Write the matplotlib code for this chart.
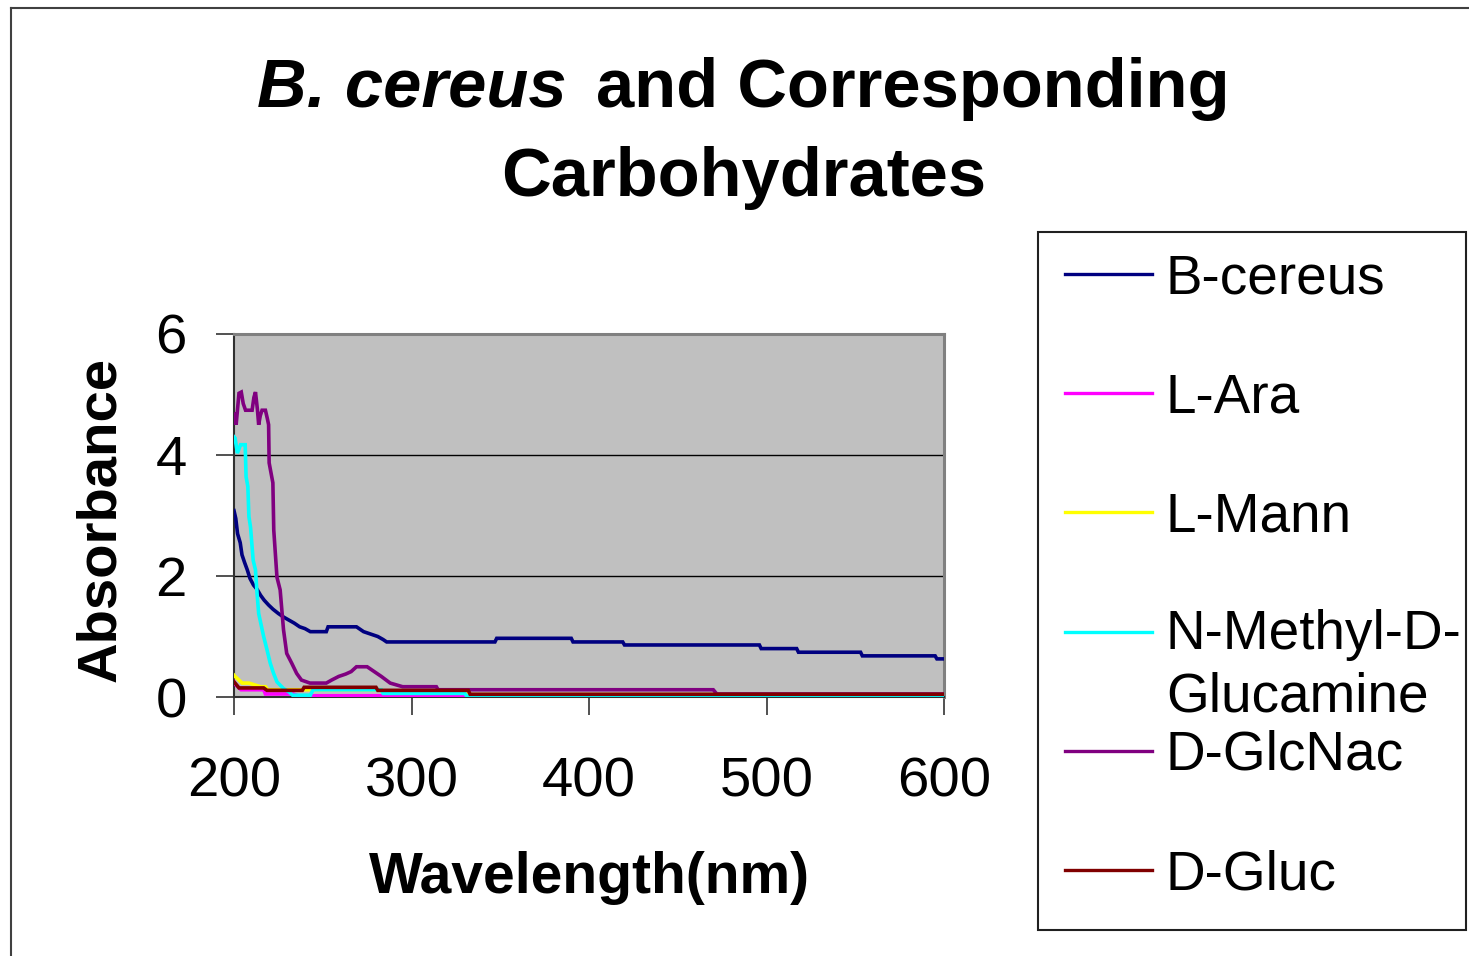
import matplotlib
matplotlib.use("Agg")
import matplotlib.pyplot as plt
from matplotlib.lines import Line2D
from matplotlib.patches import Rectangle

# ---------------- data ----------------
series_names = ["B-cereus", "L-Ara", "L-Mann", "N-Methyl-D-Glucamine", "D-GlcNac", "D-Gluc"]
series_colors = ["#000080", "#FF00FF", "#FFFF00", "#00FFFF", "#800080", "#800000"]

bc_wl = [200, 201, 202, 203.5, 204.5, 206, 207.5, 209, 211, 213,
         215, 217, 219.5, 222, 225, 228, 231, 234, 237, 240,
         243, 252, 253, 269, 271, 273, 277, 281, 284, 286,
         347, 348, 390, 391, 419, 420, 496, 497, 517, 518,
         553, 554, 595, 596, 600]
bc_abs = [3.08, 2.95, 2.7, 2.55, 2.35, 2.22, 2.1, 1.96, 1.85, 1.78,
          1.68, 1.6, 1.52, 1.45, 1.38, 1.32, 1.27, 1.22, 1.16, 1.13,
          1.08, 1.08, 1.16, 1.16, 1.12, 1.08, 1.04, 1.0, 0.95, 0.91,
          0.91, 0.97, 0.97, 0.91, 0.91, 0.86, 0.86, 0.80, 0.80, 0.74,
          0.74, 0.68, 0.68, 0.63, 0.63]

la_wl = [200, 201, 204, 216.7, 217.7, 233.5, 236, 600]
la_abs = [0.25, 0.2, 0.12, 0.12, 0.05, 0.05, 0.02, 0.02]

lm_wl = [200, 200.6, 204.6, 208.4, 214.9, 217.7, 219, 283, 284, 330, 331, 600]
lm_abs = [0.36, 0.34, 0.23, 0.23, 0.17, 0.17, 0.12, 0.12, 0.08, 0.08, 0.04, 0.04]

cy_wl = [200, 200.6, 201.9, 203.7, 206.3, 206.8, 207.8, 208.4, 209.3, 210.8,
         212.1, 213, 213.9, 216.7, 218.6, 220.4, 222.3, 224.2, 227.9, 230.7,
         233, 243, 244.5, 283, 284, 330, 331, 397, 398, 600]
cy_abs = [4.3, 4.28, 4.03, 4.17, 4.17, 3.64, 3.48, 2.98, 2.81, 2.26,
          2.1, 1.71, 1.38, 1.0, 0.78, 0.56, 0.39, 0.25, 0.14, 0.09,
          0.03, 0.03, 0.12, 0.12, 0.06, 0.06, 0.02, 0.02, 0.0, 0.0]

pg_wl = [200, 200.6, 201.2, 202.8, 204.1, 205.2, 206.5, 210.2, 211.2, 212.1,
         213.2, 213.9, 214.8, 215.8, 217.7, 218.8, 219.5, 219.8, 221.9, 222.4,
         224.2, 226, 227.9, 229.7, 232.5, 235.3, 238, 242.8, 252, 255,
         259, 263, 266, 269, 275, 279, 283, 288, 295, 314,
         315, 470, 472, 600]
pg_abs = [4.55, 4.7, 4.5, 5.02, 5.04, 4.85, 4.74, 4.74, 4.95, 5.04,
          4.75, 4.5, 4.65, 4.74, 4.74, 4.6, 4.5, 3.87, 3.54, 2.76,
          1.98, 1.77, 1.11, 0.72, 0.56, 0.39, 0.28, 0.23, 0.23, 0.28,
          0.34, 0.38, 0.42, 0.5, 0.5, 0.42, 0.34, 0.23, 0.17, 0.17,
          0.12, 0.12, 0.05, 0.05]

dg_wl = [200, 200.6, 202.8, 216.7, 218.6, 238.5, 239.5, 280, 281, 332, 333, 600]
dg_abs = [0.25, 0.23, 0.15, 0.15, 0.11, 0.11, 0.16, 0.16, 0.11, 0.11, 0.045, 0.045]

x_ticks = [200, 300, 400, 500, 600]
y_ticks = [0, 2, 4, 6]

series_x = [bc_wl, la_wl, lm_wl, cy_wl, pg_wl, dg_wl]
series_y = [bc_abs, la_abs, lm_abs, cy_abs, pg_abs, dg_abs]

# ---------------- figure ----------------
W, H = 1469, 956
plt.rcParams["font.family"] = ["Liberation Sans", "DejaVu Sans"]

fig = plt.figure(figsize=(W / 100, H / 100), dpi=100)
fig.patch.set_facecolor("white")


def fx(px):
    return px / W


def fy(py):
    return 1 - py / H


# outer chart frame (top and left edges visible)
fig.add_artist(Line2D([fx(11), fx(1469)], [fy(8), fy(8)], color="#404040", lw=1.5))
fig.add_artist(Line2D([fx(11), fx(11)], [fy(8), fy(956)], color="#404040", lw=1.5))

ax = fig.add_axes([fx(234), fy(697), (944 - 234) / W, (697 - 334) / H])
ax.set_facecolor("#C0C0C0")

for xs, ys, c in zip(series_x, series_y, series_colors):
    ax.plot(xs, ys, color=c, lw=2.6, solid_joinstyle="miter", zorder=3)

ax.set_xlim(200, 600)
ax.set_ylim(0, 6)
ax.set_xticks(x_ticks)
ax.set_yticks(y_ticks)
ax.tick_params(axis="both", labelsize=40.5, length=13, width=1.2,
               color="#333333", direction="out")
ax.tick_params(axis="x", pad=30)
ax.tick_params(axis="y", pad=21)
ax.yaxis.grid(True, color="black", lw=1.0)
ax.set_axisbelow(True)

ax.spines["left"].set_color("#303030")
ax.spines["left"].set_linewidth(1.5)
ax.spines["bottom"].set_color("#303030")
ax.spines["bottom"].set_linewidth(1.5)
for s in ("top", "right"):
    ax.spines[s].set_color("#808080")
    ax.spines[s].set_linewidth(2.2)

ax.set_xlabel("Wavelength(nm)", fontsize=41, fontweight="bold", va="baseline")
ax.xaxis.set_label_coords((589.5 - 234) / 710, -(893 - 697) / 363)
ax.set_ylabel("Absorbance", fontsize=40.5, fontweight="bold", va="baseline")
ax.yaxis.set_label_coords((115 - 234) / 710, (697 - 519) / 363)

# ---------------- title ----------------
t1 = fig.text(0, fy(106.7), "B. cereus", fontsize=49.5, fontweight="bold",
              fontstyle="italic", va="baseline")
t2 = fig.text(0, fy(106.7), "and Corresponding", fontsize=49.5, fontweight="bold",
              va="baseline")
renderer = fig.canvas.get_renderer()
w1 = t1.get_window_extent(renderer).width
w2 = t2.get_window_extent(renderer).width
gap = 29
x0 = 743.5 - (w1 + gap + w2) / 2
t1.set_x(fx(x0))
t2.set_x(fx(x0 + w1 + gap))
fig.text(fx(744), fy(196), "Carbohydrates", fontsize=49.5, fontweight="bold",
         ha="center", va="baseline")

# ---------------- legend ----------------
fig.add_artist(Rectangle((fx(1038), fy(930)), (1466 - 1038) / W, (930 - 232) / H,
                         transform=fig.transFigure, facecolor="white",
                         edgecolor="#202020", lw=1.5))
for i, (name, c) in enumerate(zip(series_names, series_colors)):
    ly = 274 + 119.2 * i
    fig.add_artist(Line2D([fx(1065), fx(1152)], [fy(ly), fy(ly)], color=c, lw=2.4))
    if name == "N-Methyl-D-Glucamine":
        fig.text(fx(1166), fy(ly + 17), "N-Methyl-D-", fontsize=39.5, va="baseline")
        fig.text(fx(1166), fy(ly + 80), "Glucamine", fontsize=39.5, va="baseline")
    else:
        fig.text(fx(1166), fy(ly + 19), name, fontsize=39.5, va="baseline")

fig.savefig("out.png", dpi=100, facecolor="white")
